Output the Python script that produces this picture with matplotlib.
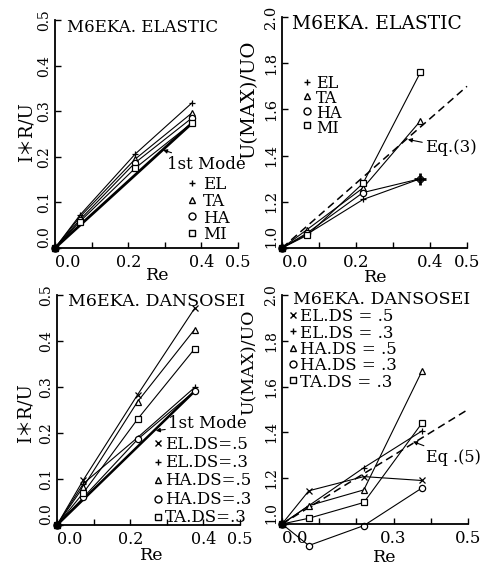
import matplotlib
matplotlib.use("Agg")
import matplotlib.pyplot as plt
from matplotlib.lines import Line2D

# ---------------- data ----------------
re_el = [0.0, 0.068, 0.219, 0.374]
ir_el = {"EL": [0.0, 0.072, 0.206, 0.318],
         "TA": [0.0, 0.068, 0.195, 0.296],
         "HA": [0.0, 0.062, 0.187, 0.285],
         "MI": [0.0, 0.058, 0.175, 0.274]}
mode1_el_re = [0.0, 0.372]
mode1_el_ir = [0.0, 0.272]

um_el = {"EL": [1.0, 1.060, 1.210, 1.300],
         "TA": [1.0, 1.080, 1.260, 1.550],
         "HA": [1.0, 1.065, 1.240, 1.300],
         "MI": [1.0, 1.055, 1.280, 1.760]}
eq3_re = [0.0, 0.5]
eq3_u = [1.0, 1.70]

re_ds = [0.0, 0.072, 0.220, 0.376]
ir_ds = {"EL.DS=.5": [0.0, 0.098, 0.283, 0.471],
         "EL.DS=.3": [0.0, 0.090, 0.190, 0.299],
         "HA.DS=.5": [0.0, 0.083, 0.268, 0.425],
         "HA.DS=.3": [0.0, 0.060, 0.186, 0.291],
         "TA.DS=.3": [0.0, 0.070, 0.230, 0.383]}
mode1_ds_re = [0.0, 0.375]
mode1_ds_ir = [0.0, 0.290]

um_ds = {"EL.DS=.5": [1.0, 1.145, 1.207, 1.190],
         "EL.DS=.3": [1.0, 1.080, 1.246, 1.406],
         "HA.DS=.5": [1.0, 1.080, 1.149, 1.667],
         "HA.DS=.3": [1.0, 0.906, 0.993, 1.157],
         "TA.DS=.3": [1.0, 1.025, 1.094, 1.440]}
eq5_re = [0.0, 0.5]
eq5_u = [1.0, 1.50]

el_markers = {"EL": "+", "TA": "^", "HA": "o", "MI": "s"}
ds_markers = {"EL.DS=.5": "x", "EL.DS=.3": "+", "HA.DS=.5": "^",
              "HA.DS=.3": "o", "TA.DS=.3": "s"}
ds_legend4 = {"EL.DS=.5": "EL.DS = .5", "EL.DS=.3": "EL.DS = .3",
              "HA.DS=.5": "HA.DS = .5", "HA.DS=.3": "HA.DS = .3",
              "TA.DS=.3": "TA.DS = .3"}

ir_ticks = [0.0, 0.1, 0.2, 0.3, 0.4, 0.5]
ir_ticklabels = ["0.0", "0.1", "0.2", "0.3", "0.4", "0.5"]
u_ticks = [1.0, 1.2, 1.4, 1.6, 1.8, 2.0]
u_ticklabels = ["1.0", "1.2", "1.4", "1.6", "1.8", "2.0"]
re_ticks = [0.0, 0.1, 0.2, 0.3, 0.4, 0.5]
re_ticklabels_a = ["0.0", "", "0.2", "", "0.4", "0.5"]
re_ticklabels_b = ["0.0", "", "", "0.3", "", "0.5"]

# ---------------- figure ----------------
W, H = 485, 568
FAMILY = ["DejaVu Serif", "Noto Sans CJK JP"]
plt.rcParams["font.family"] = FAMILY
fig = plt.figure(figsize=(W / 100, H / 100), dpi=100)
fig.patch.set_facecolor("white")
renderer = fig.canvas.get_renderer()


def fx(x):
    return x / W


def fy(y):
    return 1 - y / H


def make_ax(l, r, t, b, ylim, yt, ytl, xtl, xfs, yfs):
    ax = fig.add_axes([l / W, 1 - b / H, (r - l) / W, (b - t) / H])
    ax.set_xlim(0, 0.5)
    ax.set_ylim(*ylim)
    for s in ("top", "right"):
        ax.spines[s].set_visible(False)
    for s in ("left", "bottom"):
        ax.spines[s].set_linewidth(1.3)
    ax.set_xticks(re_ticks)
    ax.set_xticklabels(xtl, fontsize=xfs)
    ax.set_yticks(yt)
    ax.set_yticklabels(ytl, fontsize=yfs, rotation=90, va="center")
    ax.tick_params(direction="in", length=4, width=1.0, pad=4)
    ax.tick_params(axis="y", pad=3)
    ax.get_xticklabels()[0].set_ha("left")
    ax.get_yticklabels()[0].set_va("bottom")
    return ax


kw_open = dict(color="black", lw=0.8, mfc="white", mec="black", ms=4.5,
               mew=0.9, clip_on=False)


def text_metrics(fs):
    """Return (ascent of line box above baseline, line step at linespacing 1) in px."""
    t1 = fig.text(0, 0.5, "A", fontsize=fs, va="baseline")
    b1 = t1.get_window_extent(renderer)
    base = 0.5 * H
    asc = b1.y1 - base
    t2 = fig.text(0, 0.5, "A\nA", fontsize=fs, va="baseline", linespacing=1.0)
    b2 = t2.get_window_extent(renderer)
    step = b2.height - b1.height
    t1.remove()
    t2.remove()
    return asc, step


def legend_block(x_m, x_t, y0, dy, items, fs):
    """Marker column plus one multi-line text block; rows dy pixels apart."""
    asc, step = text_metrics(fs)
    em = fs * 100 / 72
    top = y0 - (asc - 0.365 * em)
    fig.text(fx(x_t), fy(top), "\n".join(lab for _, lab in items),
             fontsize=fs, ha="left", va="top", linespacing=dy / step)
    for i, (mk, _) in enumerate(items):
        fig.add_artist(Line2D([fx(x_m)], [fy(y0 + i * dy)], marker=mk,
                              ls="none", mfc="white", mec="black", ms=5,
                              mew=1.0, transform=fig.transFigure))


arrow_kw = dict(arrowstyle="-|>", lw=0.8, color="black",
                mutation_scale=6, shrinkA=0, shrinkB=0)

# ---- panel 1 ----
ax1 = make_ax(55, 238, 20, 248, (0, 0.5), ir_ticks, ir_ticklabels,
              re_ticklabels_a, 11.5, 10)
ax1.plot(mode1_el_re, mode1_el_ir, color="black", lw=2.0, clip_on=False)
for k, v in ir_el.items():
    ax1.plot(re_el, v, marker=el_markers[k], **kw_open)
ax1.plot([0], [0], "o", color="black", ms=5, clip_on=False)
fig.text(fx(67), fy(28), "M6EKA. ELASTIC", fontsize=12, ha="left", va="center")
fig.text(fx(27), fy(132), "I＊R/U", fontsize=13, rotation=90, ha="center", va="center")
fig.text(fx(158), fy(276), "Re", fontsize=12.5, ha="center", va="center")
ax1.annotate("1st Mode", xy=(0.295, 0.215), xycoords="data",
             xytext=(fx(167), fy(164)), textcoords="figure fraction",
             fontsize=12, ha="left", va="center", arrowprops=arrow_kw)
legend_block(192, 203, 183, 16.7, [(el_markers[k], k) for k in ir_el], 12)

# ---- panel 2 ----
ax2 = make_ax(282, 467, 17, 248, (1.0, 2.0), u_ticks, u_ticklabels,
              re_ticklabels_a, 12, 10.5)
ax2.plot(eq3_re, eq3_u, color="black", lw=1.1, ls=(0, (5, 3)), clip_on=False)
for k, v in um_el.items():
    ax2.plot(re_el, v, marker=el_markers[k], **kw_open)
ax2.plot([re_el[-1]], [um_el["EL"][-1]], marker="+", color="black", ms=8,
         mew=2.0, clip_on=False)
ax2.plot([0], [1.0], "o", color="black", ms=5, clip_on=False)
fig.text(fx(292), fy(24), "M6EKA. ELASTIC", fontsize=13.5, ha="left", va="center")
fig.text(fx(249), fy(100), "U(MAX)/UO", fontsize=14, rotation=90, ha="center", va="center")
fig.text(fx(376), fy(277), "Re", fontsize=12.5, ha="center", va="center")
ax2.annotate("Eq.(3)", xy=(0.34, 1.47), xycoords="data",
             xytext=(fx(425), fy(148)), textcoords="figure fraction",
             fontsize=12, ha="left", va="center", arrowprops=arrow_kw)
legend_block(307, 316, 82, 14.4, [(el_markers[k], k) for k in um_el], 11.5)

# ---- panel 3 ----
ax3 = make_ax(57, 240, 295, 525, (0, 0.5), ir_ticks, ir_ticklabels,
              re_ticklabels_a, 11.5, 10)
ax3.plot(mode1_ds_re, mode1_ds_ir, color="black", lw=1.8, clip_on=False)
for k, v in ir_ds.items():
    ax3.plot(re_ds, v, marker=ds_markers[k], **kw_open)
ax3.plot([0], [0], "o", color="black", ms=5, clip_on=False)
fig.text(fx(68), fy(301), "M6EKA. DANSOSEI", fontsize=12.5, ha="left", va="center")
fig.text(fx(26), fy(413), "I＊R/U", fontsize=13, rotation=90, ha="center", va="center")
fig.text(fx(152), fy(556), "Re", fontsize=12.5, ha="center", va="center")
ax3.annotate("1st Mode", xy=(0.27, 0.205), xycoords="data",
             xytext=(fx(168), fy(424)), textcoords="figure fraction",
             fontsize=12, ha="left", va="center", arrowprops=arrow_kw)
legend_block(158, 165, 443, 18.5, [(ds_markers[k], k) for k in ir_ds], 12)

# ---- panel 4 ----
ax4 = make_ax(282, 468, 295, 524, (1.0, 2.0), u_ticks, u_ticklabels,
              re_ticklabels_b, 12, 10)
ax4.plot(eq5_re, eq5_u, color="black", lw=1.1, ls=(0, (5, 3)), clip_on=False)
for k, v in um_ds.items():
    ax4.plot(re_ds, v, marker=ds_markers[k], **kw_open)
ax4.plot([0], [1.0], "o", color="black", ms=5, clip_on=False)
fig.text(fx(293), fy(300), "M6EKA. DANSOSEI", fontsize=12.5, ha="left", va="center")
fig.text(fx(249), fy(362), "U(MAX)/UO", fontsize=12.5, rotation=90, ha="center", va="center")
fig.text(fx(385), fy(557), "Re", fontsize=12.5, ha="center", va="center")
ax4.annotate("Eq .(5)", xy=(0.352, 1.36), xycoords="data",
             xytext=(fx(426), fy(457)), textcoords="figure fraction",
             fontsize=11.5, ha="left", va="center", arrowprops=arrow_kw)
legend_block(293, 300, 315, 16.3, [(ds_markers[k], ds_legend4[k]) for k in um_ds], 12)

fig.savefig("out.png", dpi=100)
